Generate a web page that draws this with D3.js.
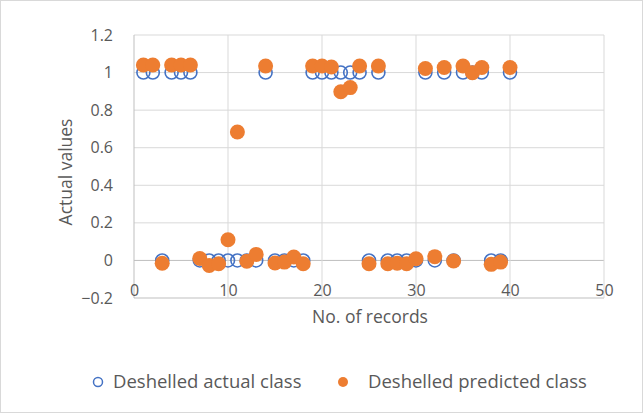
<!DOCTYPE html>
<html><head><meta charset="utf-8">
<script src="https://cdn.jsdelivr.net/npm/d3@7"></script>
<style>body{margin:0;background:#fff}svg{display:block}text{font-family:"Open Sans",sans-serif;fill:#595959}</style>
</head><body><div id="c"></div>
<script>
const records = d3.range(1, 41);
const actualClass = [1,1,0,1,1,1,0,0,0,0,0,0,0,1,0,0,0,0,1,1,1,1,1,1,0,1,0,0,0,0,1,0,1,0,1,1,1,0,0,1];
const predictedClass = [1.04,1.04,-0.015,1.04,1.04,1.04,0.01,-0.027,-0.018,0.11,0.684,-0.004,0.032,1.035,-0.014,-0.009,0.018,-0.018,1.035,1.035,1.03,0.898,0.92,1.035,-0.018,1.035,-0.018,-0.015,-0.018,0.009,1.022,0.02,1.027,-0.003,1.035,0.999,1.027,-0.021,-0.009,1.027];
const xTicks = [0,10,20,30,40,50];
const yTicks = [-0.2,0,0.2,0.4,0.6,0.8,1,1.2];
const seriesNames = ["Deshelled actual class","Deshelled predicted class"];

const W=644,H=414;
const L=134,R=604,T=35,B=298;
const FONT='"Open Sans",sans-serif';
const svg=d3.select("#c").append("svg").attr("width",W).attr("height",H);
svg.append("rect").attr("x",0.5).attr("y",0.5).attr("width",W-2).attr("height",H-2).attr("fill","#fff").attr("stroke","#d9d9d9");
const x=d3.scaleLinear().domain([0,50]).range([L,R]);
const y=d3.scaleLinear().domain([-0.2,1.2]).range([B,T]);

// gridlines
svg.append("g").selectAll("line").data(yTicks).join("line")
 .attr("x1",L).attr("x2",R).attr("y1",d=>y(d)).attr("y2",d=>y(d))
 .attr("stroke",d=>(d===0||d===-0.2)?"#bfbfbf":"#d9d9d9").attr("stroke-width",1);
svg.append("g").selectAll("line").data(xTicks).join("line")
 .attr("y1",T).attr("y2",B).attr("x1",d=>x(d)).attr("x2",d=>x(d))
 .attr("stroke",d=>d===0?"#bfbfbf":"#d9d9d9").attr("stroke-width",1);

// axes labels
const yAxis=d3.axisLeft(y).tickValues(yTicks).tickSize(0).tickPadding(21).tickFormat(d=>d3.format("")(+d.toFixed(1)));
const ga=svg.append("g").attr("transform",`translate(${L},0)`).call(yAxis);
ga.select(".domain").remove();
ga.selectAll("text").style("font-size","16px").attr("fill","#595959").style("font-family",FONT);
const xAxis=d3.axisBottom(x).tickValues(xTicks).tickSize(0).tickPadding(0);
const gx=svg.append("g").attr("transform",`translate(0,${B})`).call(xAxis);
gx.select(".domain").remove();
gx.selectAll("text").attr("y",-2).attr("dy",null).style("font-size","16px").attr("fill","#595959").style("font-family",FONT);

// titles
svg.append("text").attr("transform",`translate(72,172) rotate(-90)`).attr("text-anchor","middle").style("font-size","17.5px").text("Actual values");
svg.append("text").attr("x",370).attr("y",323).attr("text-anchor","middle").style("font-size","17.5px").text("No. of records");

// series
svg.append("g").selectAll("circle").data(records).join("circle")
 .attr("cx",d=>x(d)).attr("cy",(d,i)=>y(actualClass[i])).attr("r",6.5)
 .attr("fill","none").attr("stroke","#4472C4").attr("stroke-width",1.6);
svg.append("g").selectAll("circle").data(records).join("circle")
 .attr("cx",d=>x(d)).attr("cy",(d,i)=>y(predictedClass[i])).attr("r",7.5)
 .attr("fill","#ED7D31");

// legend
const lg=svg.append("g");
lg.append("circle").attr("cx",98).attr("cy",382).attr("r",4.5).attr("fill","none").attr("stroke","#4472C4").attr("stroke-width",1.5);
lg.append("text").attr("x",113).attr("y",388).style("font-size","18.5px").text(seriesNames[0]);
lg.append("circle").attr("cx",343).attr("cy",382).attr("r",5).attr("fill","#ED7D31");
lg.append("text").attr("x",368).attr("y",388).style("font-size","18.5px").text(seriesNames[1]);
</script></body></html>
